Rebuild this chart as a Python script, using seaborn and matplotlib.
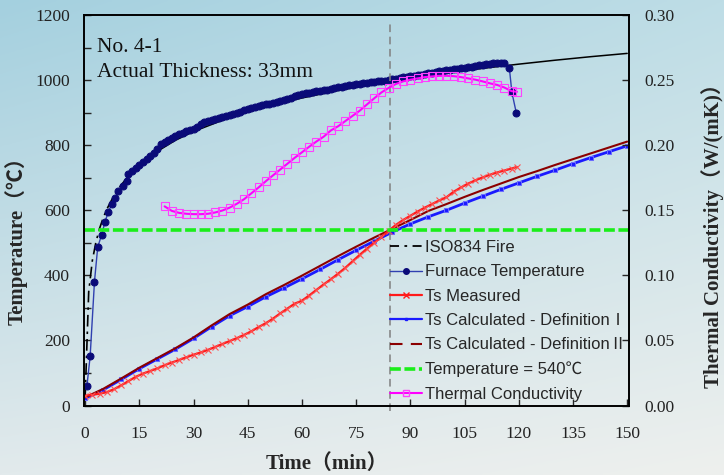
import numpy as np
import pandas as pd
import seaborn as sns
import matplotlib.pyplot as plt
from matplotlib.lines import Line2D
from matplotlib.ticker import MultipleLocator

# ISO834 standard fire curve
iso_time = [0, 1, 2, 3, 4, 5, 6, 8, 10, 12, 15, 20, 25, 30, 40, 50, 60, 70, 80, 90,
            100, 110, 120, 130, 140, 150]
iso_temp = [20, 349, 445, 502, 544, 576, 603, 645, 678, 705, 739, 781, 815, 842, 885,
            918, 945, 968, 988, 1006, 1022, 1036, 1049, 1061, 1072, 1082]

# furnace temperature
furnace_time = ([0.5, 1.4, 2.6, 3.5, 4.6, 5.5, 6.4, 7.4, 8.3, 9.2, 10.6, 11.5, 12.0]
                + list(range(13, 117)) + [117.4, 118.1, 119.3])
furnace_temp = [59, 151, 381, 487, 525, 564, 594, 619, 639, 658, 675, 691, 711,
                720, 731, 738, 748, 758, 766, 775, 788, 803, 810,
                816, 823, 828, 833, 838, 843, 846, 851, 857, 864,
                870, 874, 878, 881, 884, 887, 890, 893, 896, 900,
                903, 907, 911, 915, 918, 920, 922, 925, 928, 930,
                934, 937, 940, 943, 946, 950, 953, 956, 959, 961,
                963, 965, 967, 969, 971, 973, 975, 978, 980, 982,
                984, 986, 988, 989, 990, 992, 993, 995, 996, 997,
                998, 1000, 1002, 1004, 1006, 1008, 1010, 1012, 1013, 1015,
                1017, 1019, 1021, 1023, 1025, 1027, 1028, 1030, 1032, 1033,
                1035, 1036, 1038, 1039, 1041, 1043, 1045, 1046, 1048, 1049,
                1051, 1052, 1053, 1054,
                1036, 962, 900]

# measured surface temperature
meas_time = list(range(0, 120, 2)) + [119.5]
meas_temp = [30, 33, 36, 41, 50, 62, 75, 88, 98, 106,
             114, 124, 132, 140, 148, 156, 163, 171, 180, 189,
             198, 207, 217, 228, 241, 253, 267, 283, 298, 313,
             322, 338, 355, 372, 388, 405, 423, 443, 463, 482,
             500, 518, 537, 555, 570, 583, 596, 608, 619, 630,
             640, 657, 670, 682, 692, 701, 709, 716, 722, 728,
             733]

# calculated surface temperatures
calc_time = list(range(0, 155, 5))
calc_def1 = [22, 48, 80, 113, 143, 173, 206, 242, 276, 304, 334, 361, 389, 418, 448, 477,
             505, 533, 558, 580, 600, 622, 643, 664, 684, 704, 723, 743, 762, 780, 798]
calc_def2 = [25, 51, 83, 116, 146, 176, 209, 246, 281, 310, 342, 370, 399, 429, 459, 488,
             516, 543, 570, 598, 619, 641, 662, 682, 702, 720, 739, 757, 775, 793, 811]

# thermal conductivity W/(mK)
k_time = list(range(22, 120, 2)) + [119.5]
k_value = [0.1530, 0.1495, 0.1480, 0.1473, 0.1470, 0.1470, 0.1473, 0.1483, 0.1498, 0.1520,
           0.1550, 0.1585, 0.1630, 0.1675, 0.1723, 0.1768, 0.1813, 0.1858, 0.1903, 0.1945,
           0.1988, 0.2028, 0.2065, 0.2113, 0.2145, 0.2185, 0.2225, 0.2265, 0.2313, 0.2360,
           0.2405, 0.2440, 0.2470, 0.2490, 0.2503, 0.2513, 0.2523, 0.2528, 0.2533, 0.2533,
           0.2530, 0.2523, 0.2513, 0.2503, 0.2490, 0.2475, 0.2463, 0.2443, 0.2415, 0.2410]

limit_temp = 540
limit_time = 84.3

sns.set_style("ticks")
serif = ['Liberation Serif', 'Noto Sans CJK SC', 'DejaVu Sans']
sans = ['Liberation Sans', 'Noto Sans CJK SC', 'DejaVu Sans']
plt.rcParams['font.family'] = serif
plt.rcParams['axes.unicode_minus'] = False

fig = plt.figure(figsize=(7.24, 4.75), dpi=100)

# gradient background
bg = fig.add_axes([0, 0, 1, 1], zorder=-10)
yy, xx = np.mgrid[0:1:200j, 0:1:300j]
tl = np.array([164, 208, 223]) / 255
tr = np.array([190, 221, 230]) / 255
bl = np.array([226, 234, 236]) / 255
br = np.array([238, 240, 238]) / 255
grad = ((1 - yy)[..., None] * ((1 - xx)[..., None] * tl + xx[..., None] * tr)
        + yy[..., None] * ((1 - xx)[..., None] * bl + xx[..., None] * br))
bg.imshow(grad, aspect='auto', extent=[0, 1, 0, 1], origin='upper')
bg.axis('off')

ax = fig.add_axes([84 / 724, 1 - 405.5 / 475, 545 / 724, 390.5 / 475])
ax.patch.set_alpha(0)
ax2 = ax.twinx()
ax2.patch.set_alpha(0)

# ISO834 (dash-dot where the curve is steep, looks solid where points are dense)
sns.lineplot(x=iso_time[:9], y=iso_temp[:9], ax=ax, color='black', lw=1.2,
             linestyle=(0, (7, 3, 1.5, 3)), sort=False, estimator=None)
sns.lineplot(x=iso_time[8:], y=iso_temp[8:], ax=ax, color='black', lw=1.1,
             sort=False, estimator=None)

sns.lineplot(x=calc_time, y=calc_def1, ax=ax, color='#1a1aff', lw=2.0, marker='s',
             markersize=2.5, markeredgecolor='#6a6aff', sort=False, estimator=None)
sns.lineplot(x=calc_time, y=calc_def2, ax=ax, color='#8b0000', lw=1.5,
             sort=False, estimator=None)
sns.lineplot(x=meas_time, y=meas_temp, ax=ax, color='#ff1a1a', lw=1.6, marker='x',
             markersize=4, markeredgecolor='#ff5050', markeredgewidth=0.8,
             sort=False, estimator=None)
sns.lineplot(x=furnace_time, y=furnace_temp, ax=ax, color='#3040b0', lw=1.0, marker='o',
             markersize=5, markerfacecolor='#0a0a78', markeredgecolor='#0a0a78',
             sort=False, estimator=None)
ax.axhline(limit_temp, color='#1aee1a', lw=2.6, linestyle=(0, (3, 1)))
ax.plot([limit_time, limit_time], [-18, 1185], color='#808080', lw=1.1,
        linestyle=(0, (5, 3)), clip_on=False)

sns.lineplot(x=k_time, y=k_value, ax=ax2, color='#ff00ff', lw=1.5, marker='s',
             markersize=5.5, markerfacecolor='none', markeredgecolor='#ff40ff',
             markeredgewidth=0.8, sort=False, estimator=None)

ax.set_xlim(-0.3, 150.5)
ax.set_ylim(0, 1200)
ax2.set_ylim(0, 0.30)
ax.xaxis.set_major_locator(MultipleLocator(15))
ax.yaxis.set_major_locator(MultipleLocator(200))
ax.yaxis.set_minor_locator(MultipleLocator(100))
ax2.yaxis.set_major_locator(MultipleLocator(0.05))
ax2.yaxis.set_major_formatter(plt.FormatStrFormatter('%.2f'))

for a in (ax, ax2):
    for s in a.spines.values():
        s.set_color('black')
        s.set_linewidth(1.2)
ax.tick_params(axis='x', direction='in', length=5, width=1, pad=15, labelsize=12.5,
               top=False)
ax.tick_params(axis='y', which='both', direction='in', length=5, width=1, pad=10,
               labelsize=12.5, right=False)
ax.tick_params(axis='y', which='minor', length=5)
ax2.tick_params(axis='y', direction='in', length=5, width=1, pad=11, labelsize=12.5)
for lab in ax.get_xticklabels() + ax.get_yticklabels() + ax2.get_yticklabels():
    lab.set_color('#222222')

ax.set_xlabel('Time（min）', fontsize=15, fontweight='bold', family=serif)
ax.set_ylabel('Temperature（℃）', fontsize=15, fontweight='bold', family=serif)
ax2.set_ylabel('Thermal Conductivity（W/(mK)）', fontsize=15, fontweight='bold',
               family=serif)
ax.xaxis.set_label_coords(0.445, -0.125)
ax.yaxis.set_label_coords(-0.103, 0.434)
ax2.yaxis.set_label_coords(1.133, 0.449)

ax.text(0.024, 0.94, 'No. 4-1', transform=ax.transAxes, fontsize=15.5, va='top',
        family=serif, color='#111111')
ax.text(0.024, 0.877, 'Actual Thickness: 33mm', transform=ax.transAxes, fontsize=15.5,
        va='top', family=serif, color='#111111')

handles = [
    Line2D([], [], color='black', lw=1.3, linestyle=(0, (5, 3, 1.5, 3))),
    Line2D([], [], color='#3040b0', lw=1.0, marker='o', markersize=4,
           markerfacecolor='#0a0a78', markeredgecolor='#0a0a78'),
    Line2D([], [], color='#ff1a1a', lw=1.6, marker='x', markersize=4),
    Line2D([], [], color='#1a1aff', lw=1.6, marker='s', markersize=2),
    Line2D([], [], color='#8b0000', lw=1.5, linestyle=(0, (6, 4))),
    Line2D([], [], color='#1aee1a', lw=2.6, linestyle=(0, (3, 1))),
    Line2D([], [], color='#ff00ff', lw=1.5, marker='s', markersize=5,
           markerfacecolor='none', markeredgecolor='#ff40ff'),
]
labels = ['ISO834 Fire', 'Furnace Temperature', 'Ts Measured',
          'Ts Calculated - DefinitionⅠ', 'Ts Calculated - DefinitionⅡ',
          'Temperature = 540℃', 'Thermal Conductivity']
ax2.legend(handles, labels, loc='upper left', bbox_to_anchor=(390 / 724, 1 - 240 / 475),
           bbox_transform=fig.transFigure, frameon=False, prop={'family': sans, 'size': 12},
           handlelength=1.9, handletextpad=0.2, labelspacing=0.56, borderaxespad=0,
           borderpad=0)

fig.savefig('out.png', dpi=100)
